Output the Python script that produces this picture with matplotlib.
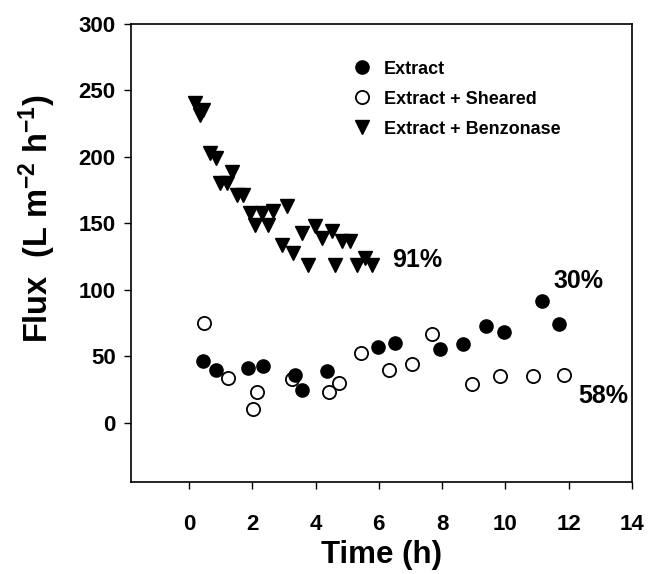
import matplotlib
matplotlib.use("Agg")
import matplotlib.pyplot as plt
from matplotlib.lines import Line2D

plt.rcParams['font.family'] = ['Liberation Sans', 'DejaVu Sans']
plt.rcParams['font.weight'] = 'bold'
plt.rcParams['mathtext.fontset'] = 'custom'
plt.rcParams['mathtext.rm'] = 'Liberation Sans:bold'
plt.rcParams['mathtext.bf'] = 'Liberation Sans:bold'
plt.rcParams['mathtext.default'] = 'bf'

# Extract (filled circles)
extract_t = [0.45, 0.87, 1.87, 2.35, 3.35, 3.56, 4.37, 5.98, 6.51, 7.93, 8.65, 9.39, 9.97, 11.17, 11.69]
extract_flux = [46.3, 40.1, 41.4, 43.1, 36.3, 25.0, 38.8, 56.8, 60.1, 55.6, 59.6, 73.2, 68.4, 92.0, 74.7]

# Extract + Sheared (open circles)
sheared_t = [0.47, 1.24, 2.03, 2.16, 3.25, 4.42, 4.75, 5.44, 6.33, 7.06, 7.67, 8.93, 9.82, 10.88, 11.85]
sheared_flux = [75.2, 33.8, 10.5, 23.0, 32.6, 23.3, 30.1, 52.6, 40.1, 44.6, 67.1, 29.5, 35.6, 35.6, 36.3]

# Extract + Benzonase (down triangles)
benz_t = [0.19, 0.44, 0.35, 0.66, 0.87, 1.35, 0.98, 1.19, 1.51, 1.72,
          1.93, 2.30, 2.66, 2.09, 2.51, 3.09,
          2.93, 3.30, 3.56, 3.98, 4.19, 4.51, 4.83, 5.09, 3.77, 4.61, 5.30, 5.56, 5.77]
benz_flux = [240.8, 235.6, 231.8, 203.0, 199.0, 188.5, 180.5, 180.5, 171.6, 171.6,
             157.9, 157.9, 159.1, 149.1, 149.1, 162.9,
             134.0, 127.8, 142.9, 147.8, 139.1, 144.0, 136.5, 136.5, 119.0, 119.0, 119.0, 124.0, 119.0]

labels = ["Extract", "Extract + Sheared", "Extract + Benzonase"]
pct_text = ["91%", "30%", "58%"]
pct_x = [7.2, 12.3, 13.1]
pct_y = [122.8, 106.5, 20.0]

xticks = [0, 2, 4, 6, 8, 10, 12, 14]
yticks = [0, 50, 100, 150, 200, 250, 300]

fig = plt.figure(figsize=(6.49, 5.74), dpi=100)
ax = fig.add_axes([131/649, 1-482/574, (632-131)/649, (482-24)/574])

ms = 9.5
ax.plot(benz_t, benz_flux, linestyle='none', marker='v', color='black', markersize=10)
ax.plot(sheared_t, sheared_flux, linestyle='none', marker='o', markerfacecolor='white',
        markeredgecolor='black', markeredgewidth=1.3, markersize=ms)
ax.plot(extract_t, extract_flux, linestyle='none', marker='o', color='black', markersize=ms)

ax.set_xlim(-1.83, 14)
ax.set_ylim(-44.5, 300)
ax.set_xticks(xticks)
ax.set_yticks(yticks)
ax.tick_params(direction='out', length=5, width=1, labelsize=16, top=False, right=False)
ax.tick_params(axis='x', pad=18)
ax.tick_params(axis='y', pad=6)
for lab in ax.get_xticklabels() + ax.get_yticklabels():
    lab.set_fontweight('bold')
for sp in ax.spines.values():
    sp.set_linewidth(1.2)

ax.set_xlabel("Time (h)", fontsize=22.5, fontweight='bold')
ax.xaxis.set_label_coords(0.5, -0.126)
ax.set_ylabel("Flux  (L m$^{-2}$ h$^{-1}$)", fontsize=23.5, fontweight='bold')
ax.yaxis.set_label_coords(-0.146, 0.575)

for t, x, y in zip(pct_text, pct_x, pct_y):
    ax.text(x, y, t, fontsize=18, fontweight='bold', ha='center', va='center')

handles = [
    Line2D([], [], linestyle='none', marker='o', color='black', markersize=ms),
    Line2D([], [], linestyle='none', marker='o', markerfacecolor='white', markeredgecolor='black',
           markeredgewidth=1.3, markersize=ms),
    Line2D([], [], linestyle='none', marker='v', color='black', markersize=10),
]
leg = ax.legend(handles, labels, loc='upper left', bbox_to_anchor=(0.422, 0.94), frameon=False,
                prop={'weight': 'bold', 'size': 13}, handletextpad=0.6, labelspacing=0.72,
                handlelength=1.2, borderpad=0)

fig.savefig("out.png", dpi=100)
